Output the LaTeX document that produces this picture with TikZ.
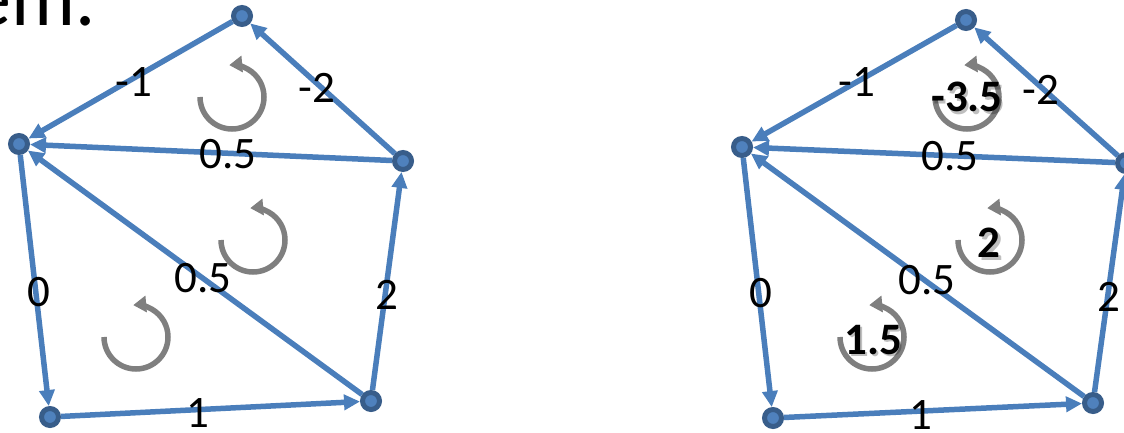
\documentclass[tikz,border=0pt]{standalone}
\usepackage{fontspec}
\setmainfont{Carlito}
\usetikzlibrary{arrows.meta}
\definecolor{edgeblue}{RGB}{74,126,187}
\definecolor{nodefill}{RGB}{79,129,189}
\definecolor{nodering}{RGB}{56,93,138}
\definecolor{arcgray}{RGB}{127,127,127}
\begin{document}
\begin{tikzpicture}[x=1pt,y=1pt,
  vtx/.style={circle, fill=nodefill, draw=nodering, line width=5pt, minimum size=17pt, inner sep=0pt},
  edge/.style={draw=edgeblue, line width=5.5pt, -{Triangle[length=16pt,width=15pt]}},
  wlabel/.style={font=\fontsize{45}{45}\selectfont, inner sep=0pt},
  blabel/.style={font=\fontsize{45}{45}\selectfont\bfseries, inner sep=0pt},
  shadowlabel/.style={blabel, text=black, text opacity=0.25},
  cyc/.style={draw=arcgray, line width=5.5pt, -{Triangle[length=13pt,width=16pt]}}
]
\useasboundingbox (0,0) rectangle (1124,432);

% title fragment
\node[anchor=base east, font=\fontsize{80}{80}\selectfont, inner sep=0pt] (title) at (96,406) {em.};

% ---------- left graph ----------
\node[vtx] (lT)  at (242,416) {};
\node[vtx] (lL)  at (19,288) {};
\node[vtx] (lR)  at (403,271) {};
\node[vtx] (lBL) at (50,15) {};
\node[vtx] (lBR) at (371,31) {};

\draw[edge] (lT) -- (lL);
\draw[edge] (lR) -- (lT);
\draw[edge] (lR) -- (lL);
\draw[edge] (lL) -- (lBL);
\draw[edge] (lBL) -- (lBR);
\draw[edge] (lBR) -- (lL);
\draw[edge] (lBR) -- (lR);

\coordinate (lc1) at (232,335);
\coordinate (lc2) at (253,192);
\coordinate (lc3) at (136,95);
\draw[cyc] ([shift={(180:32)}]lc1) arc[start angle=180, end angle=455, radius=32];
\draw[cyc] ([shift={(180:32)}]lc2) arc[start angle=180, end angle=455, radius=32];
\draw[cyc] ([shift={(180:32)}]lc3) arc[start angle=180, end angle=455, radius=32];

\node[wlabel] (l1) at (134,350) {-1};
\node[wlabel] (l2) at (317,344) {-2};
\node[wlabel] (l3) at (228,278) {0.5};
\node[wlabel] (l4) at (39,140) {0};
\node[wlabel] (l5) at (203,154) {0.5};
\node[wlabel] (l6) at (387,137) {2};
\node[wlabel] (l7) at (198,19) {1};

% ---------- right graph ----------
\node[vtx] (rT)  at (966,412) {};
\node[vtx] (rL)  at (742,285) {};
\node[vtx] (rR)  at (1126,269) {};
\node[vtx] (rBL) at (773,14) {};
\node[vtx] (rBR) at (1093,29) {};

\draw[edge] (rT) -- (rL);
\draw[edge] (rR) -- (rT);
\draw[edge] (rR) -- (rL);
\draw[edge] (rL) -- (rBL);
\draw[edge] (rBL) -- (rBR);
\draw[edge] (rBR) -- (rL);
\draw[edge] (rBR) -- (rR);

\coordinate (rc1) at (967,335);
\coordinate (rc2) at (990,192);
\coordinate (rc3) at (872,95);
\draw[cyc] ([shift={(180:32)}]rc1) arc[start angle=180, end angle=455, radius=32];
\draw[cyc] ([shift={(180:32)}]rc2) arc[start angle=180, end angle=455, radius=32];
\draw[cyc] ([shift={(180:32)}]rc3) arc[start angle=180, end angle=455, radius=32];

\node[wlabel] (r1) at (857,350) {-1};
\node[wlabel] (r2) at (1041,342) {-2};
\node[wlabel] (r3) at (950,276) {0.5};
\node[wlabel] (r4) at (761,139) {0};
\node[wlabel] (r5) at (927,152) {0.5};
\node[wlabel] (r6) at (1109,135) {2};
\node[wlabel] (r7) at (921,17) {1};

% bold cycle values with soft shadow
\node[shadowlabel] (s1) at (969.5,332.5) {-3.5};
\node[shadowlabel] (s2) at (991.5,186.5) {2};
\node[shadowlabel] (s3) at (875.5,89.5) {1.5};
\node[blabel] (b1) at (967,335) {-3.5};
\node[blabel] (b2) at (989,189) {2};
\node[blabel] (b3) at (873,92) {1.5};
\end{tikzpicture}
\end{document}
